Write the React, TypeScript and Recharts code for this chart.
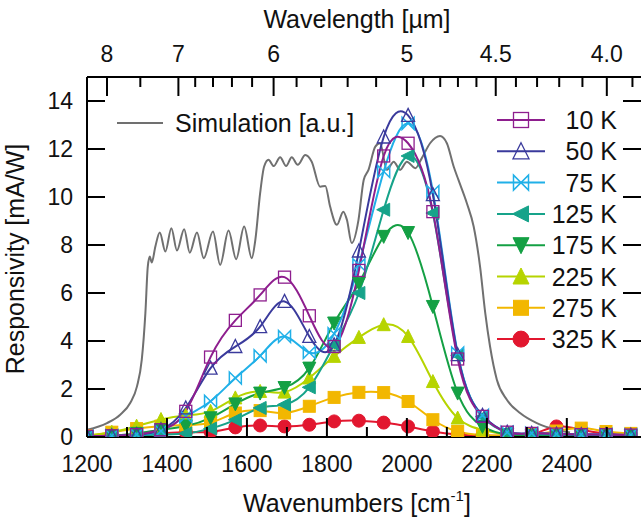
import React from 'react';
import { LineChart, Line, XAxis, YAxis } from 'recharts';

// ---------- data ----------
const WAVENUMBERS = [1200, 1262, 1324, 1385, 1447, 1509, 1571, 1633, 1694, 1756, 1818, 1880, 1942, 2003, 2065, 2127, 2189, 2251, 2312, 2374, 2436, 2498, 2560];

const R_10K = [0.03, 0.05, 0.1, 0.3, 1.07, 3.33, 4.86, 5.92, 6.66, 5.05, 3.77, 6.94, 11.71, 12.24, 9.39, 3.25, 0.86, 0.2, 0.15, 0.12, 0.1, 0.1, 0.08];
const R_50K = [0.03, 0.05, 0.1, 0.3, 1.21, 2.87, 3.77, 4.6, 5.65, 4.19, 3.84, 7.75, 12.5, 13.4, 10.1, 3.43, 0.9, 0.2, 0.15, 0.12, 0.1, 0.1, 0.08];
const R_75K = [0.03, 0.05, 0.1, 0.25, 0.86, 1.49, 2.46, 3.38, 4.19, 3.52, 4.3, 7.18, 11.06, 13.07, 10.23, 3.5, 0.9, 0.2, 0.15, 0.12, 0.1, 0.1, 0.08];
const R_125K = [0.0, 0.02, 0.05, 0.1, 0.15, 0.35, 0.72, 1.21, 1.35, 2.07, 3.84, 6.0, 9.47, 11.71, 9.33, 3.4, 0.85, 0.2, 0.12, 0.1, 0.1, 0.08, 0.05];
const R_175K = [0.0, 0.05, 0.15, 0.3, 0.46, 0.8, 1.38, 1.83, 2.06, 2.87, 4.75, 6.41, 8.36, 8.52, 5.44, 1.83, 0.44, 0.1, 0.05, 0.05, 0.05, 0.05, 0.05];
const R_225K = [0.05, 0.2, 0.45, 0.73, 0.9, 1.07, 1.63, 1.9, 1.87, 2.46, 3.36, 4.15, 4.68, 4.19, 2.31, 0.79, 0.3, 0.1, 0.08, 0.08, 0.08, 0.05, 0.05];
const R_275K = [0.05, 0.2, 0.35, 0.45, 0.5, 0.6, 1.0, 1.1, 1.0, 1.28, 1.65, 1.86, 1.85, 1.48, 0.72, 0.23, 0.08, 0.05, 0.1, 0.25, 0.37, 0.23, 0.15];
const R_325K = [0.05, 0.08, 0.1, 0.15, 0.2, 0.21, 0.4, 0.48, 0.44, 0.51, 0.65, 0.68, 0.6, 0.44, 0.23, 0.1, 0.05, 0.05, 0.1, 0.44, 0.3, 0.15, 0.1];

const SIM_X = [1200, 1250, 1283, 1308, 1325, 1337, 1346, 1352, 1357, 1362, 1371, 1382, 1396, 1411, 1425, 1443, 1457, 1475, 1492, 1515, 1533, 1554, 1573, 1593, 1612, 1621, 1633, 1643, 1654, 1667, 1683, 1698, 1712, 1727, 1746, 1762, 1783, 1796, 1808, 1825, 1841, 1850, 1862, 1879, 1892, 1904, 1921, 1933, 1950, 1967, 1983, 2000, 2021, 2037, 2058, 2083, 2100, 2117, 2129, 2150, 2167, 2183, 2196, 2208, 2225, 2250, 2283, 2325, 2375, 2408];
const SIM_Y = [0.30, 0.58, 0.93, 1.42, 2.11, 3.22, 5.16, 7.10, 7.52, 7.27, 7.94, 8.52, 7.73, 8.70, 7.77, 8.66, 7.68, 8.52, 7.45, 8.56, 7.17, 8.60, 7.41, 8.77, 7.45, 8.21, 10.16, 11.27, 11.55, 11.29, 11.66, 11.29, 11.66, 11.34, 11.75, 11.47, 10.43, 10.46, 9.60, 8.84, 9.39, 9.05, 8.08, 9.05, 10.71, 11.13, 12.10, 12.24, 11.13, 11.47, 11.13, 11.47, 11.20, 11.61, 12.24, 12.54, 12.24, 11.27, 10.71, 9.74, 8.77, 7.10, 5.16, 3.77, 2.39, 1.55, 1.00, 0.58, 0.30, 0.19];

const BOTTOM_MAJOR = [1200, 1400, 1600, 1800, 2000, 2200, 2400];
const BOTTOM_MINOR = [1300, 1500, 1700, 1900, 2100, 2300, 2500];
const TOP_MAJOR_UM = [8, 7, 6, 5, 4.5, 4.0];
const TOP_MAJOR_LABELS = ['8', '7', '6', '5', '4.5', '4.0'];
const TOP_MINOR_UM = [7.5, 6.8, 6.6, 6.4, 6.2, 5.8, 5.6, 5.4, 5.2, 4.9, 4.8, 4.7, 4.6, 4.4, 4.3, 4.2, 4.1, 3.9];
const Y_TICKS = [0, 2, 4, 6, 8, 10, 12, 14];

const SERIES = [
  { key: 'k325', name: '325 K', color: '#E2172F', shape: 'circle', values: R_325K },
  { key: 'k275', name: '275 K', color: '#F2B700', shape: 'square', values: R_275K },
  { key: 'k225', name: '225 K', color: '#B6D400', shape: 'up', values: R_225K },
  { key: 'k175', name: '175 K', color: '#14A044', shape: 'down', values: R_175K },
  { key: 'k125', name: '125 K', color: '#16A38A', shape: 'left', values: R_125K },
  { key: 'k75', name: '75 K', color: '#20B0E8', shape: 'bowtie', values: R_75K },
  { key: 'k50', name: '50 K', color: '#3A3A9C', shape: 'openTri', values: R_50K },
  { key: 'k10', name: '10 K', color: '#8E1E8E', shape: 'openSquare', values: R_10K },
];
const LEGEND_ORDER = ['k10', 'k50', 'k75', 'k125', 'k175', 'k225', 'k275', 'k325'];

const TABLE = WAVENUMBERS.map((w, i) => {
  const row: any = { w };
  SERIES.forEach((s) => { row[s.key] = s.values[i]; });
  return row;
});
const SIM_TABLE = SIM_X.map((w, i) => ({ w, sim: SIM_Y[i] }));

const TOP_TICKS = [...TOP_MAJOR_UM, ...TOP_MINOR_UM].map((um) => 10000 / um);

const FONT = '"Liberation Sans", Arial, Helvetica, sans-serif';
const X_DOMAIN: [number, number] = [1200, 2588];

// ---------- markers ----------
function Marker({ cx, cy, shape, color, size }: any) {
  const h = size / 2;
  if (cx == null || cy == null) return null;
  switch (shape) {
    case 'circle':
      return <circle cx={cx} cy={cy} r={h + 0.5} fill={color} stroke={color} strokeWidth={1} />;
    case 'square':
      return <rect x={cx - h} y={cy - h} width={size} height={size} fill={color} stroke={color} strokeWidth={1} />;
    case 'up':
      return <polygon points={`${cx},${cy - h - 1} ${cx + h + 0.5},${cy + h} ${cx - h - 0.5},${cy + h}`} fill={color} stroke={color} strokeWidth={1} />;
    case 'down':
      return <polygon points={`${cx - h - 0.5},${cy - h} ${cx + h + 0.5},${cy - h} ${cx},${cy + h + 1}`} fill={color} stroke={color} strokeWidth={1} />;
    case 'left':
      return <polygon points={`${cx - h - 1},${cy} ${cx + h},${cy - h - 0.5} ${cx + h},${cy + h + 0.5}`} fill={color} stroke={color} strokeWidth={1} />;
    case 'bowtie':
      return <polygon points={`${cx - h},${cy - h} ${cx + h},${cy + h} ${cx + h},${cy - h} ${cx - h},${cy + h}`} fill="none" stroke={color} strokeWidth={1.5} />;
    case 'openTri':
      return <polygon points={`${cx},${cy - h - 1} ${cx + h + 0.5},${cy + h} ${cx - h - 0.5},${cy + h}`} fill="none" stroke={color} strokeWidth={1.3} />;
    case 'openSquare':
    default:
      return <rect x={cx - h} y={cy - h} width={size} height={size} fill="none" stroke={color} strokeWidth={1.3} />;
  }
}

// ---------- ticks ----------
const BottomTick = (p: any) => {
  const { x, y, payload } = p;
  const major = BOTTOM_MAJOR.includes(payload.value);
  return (
    <g>
      <line x1={x} x2={x} y1={y} y2={y - (major ? 19 : 10)} stroke="#000" strokeWidth={2} />
      {major && (
        <text x={x} y={y + 35} textAnchor="middle" fontSize={23} fontFamily={FONT} fill="#111">
          {payload.value}
        </text>
      )}
    </g>
  );
};

const TopTick = (p: any) => {
  const { x, y, payload } = p;
  const idx = TOP_MAJOR_UM.findIndex((um) => Math.abs(10000 / um - payload.value) < 0.01);
  const major = idx >= 0;
  return (
    <g>
      <line x1={x} x2={x} y1={y} y2={y + (major ? 19 : 10)} stroke="#000" strokeWidth={2} />
      {major && (
        <text x={x} y={y - 15} textAnchor="middle" fontSize={23} fontFamily={FONT} fill="#111">
          {TOP_MAJOR_LABELS[idx]}
        </text>
      )}
    </g>
  );
};

const LeftTick = (p: any) => {
  const { x, y, payload } = p;
  return (
    <g>
      <line x1={x} x2={x + 18} y1={y} y2={y} stroke="#000" strokeWidth={2} />
      <text x={x - 14} y={y + 8} textAnchor="end" fontSize={23} fontFamily={FONT} fill="#111">
        {payload.value}
      </text>
    </g>
  );
};

const RightTick = (p: any) => {
  const { x, y } = p;
  return <line x1={x} x2={x - 19} y1={y} y2={y} stroke="#000" strokeWidth={2} />;
};

// ---------- app ----------
export default function App() {
  const legendRows = LEGEND_ORDER.map((k) => SERIES.find((s) => s.key === k)!);
  return (
    <div style={{ position: 'fixed', left: 0, top: 0, width: 641, height: 521, overflow: 'hidden', background: '#fff' }}>
      <LineChart width={660} height={521} data={TABLE} margin={{ top: 0, right: 0, bottom: 0, left: 0 }}>
        <XAxis
          xAxisId="bottom"
          dataKey="w"
          type="number"
          domain={X_DOMAIN}
          allowDataOverflow
          ticks={[...BOTTOM_MAJOR, ...BOTTOM_MINOR].sort((a, b) => a - b)}
          interval={0}
          tickSize={0}
          tickMargin={0}
          tickLine={false}
          tick={BottomTick}
          axisLine={{ stroke: '#000', strokeWidth: 2 }}
          height={84}
        />
        <XAxis
          xAxisId="top"
          orientation="top"
          dataKey="w"
          type="number"
          domain={X_DOMAIN}
          allowDataOverflow
          ticks={TOP_TICKS}
          interval={0}
          tickSize={0}
          tickMargin={0}
          tickLine={false}
          tick={TopTick}
          axisLine={{ stroke: '#000', strokeWidth: 2 }}
          height={77}
        />
        <YAxis
          yAxisId="left"
          type="number"
          domain={[0, 15]}
          allowDataOverflow
          ticks={Y_TICKS}
          interval={0}
          tickSize={0}
          tickMargin={0}
          tickLine={false}
          tick={LeftTick}
          axisLine={{ stroke: '#000', strokeWidth: 2 }}
          width={87}
        />
        <YAxis
          yAxisId="right"
          orientation="right"
          type="number"
          domain={[0, 15]}
          allowDataOverflow
          ticks={Y_TICKS}
          interval={0}
          tickSize={0}
          tickMargin={0}
          tickLine={false}
          tick={RightTick}
          axisLine={{ stroke: '#000', strokeWidth: 2 }}
          width={18}
        />
        <Line
          xAxisId="bottom"
          yAxisId="left"
          data={SIM_TABLE}
          dataKey="sim"
          type="monotone"
          stroke="#707070"
          strokeWidth={2}
          dot={false}
          activeDot={false}
          isAnimationActive={false}
        />
        {SERIES.map((s) => (
          <Line
            key={s.key}
            xAxisId="bottom"
            yAxisId="left"
            dataKey={s.key}
            type="natural"
            stroke={s.color}
            strokeWidth={2}
            activeDot={false}
            isAnimationActive={false}
            dot={(p: any) => (
              <Marker key={`${s.key}-${p.index}`} cx={p.cx} cy={p.cy} shape={s.shape} color={s.color} size={12} />
            )}
          />
        ))}
      </LineChart>
      <svg
        width={641}
        height={521}
        style={{ position: 'absolute', left: 0, top: 0, pointerEvents: 'none' }}
        fontFamily={FONT}
      >
        <text x={357} y={28} textAnchor="middle" fontSize={25} fill="#111">Wavelength [µm]</text>
        <text x={357} y={512} textAnchor="middle" fontSize={25} fill="#111">
          Wavenumbers [cm<tspan dy={-11} fontSize={15}>-1</tspan><tspan dy={11}>]</tspan>
        </text>
        <text transform="translate(24,259) rotate(-90)" textAnchor="middle" fontSize={25} fill="#111">
          Responsivity [mA/W]
        </text>
        {/* simulation legend */}
        <line x1={117} x2={163} y1={123} y2={123} stroke="#707070" strokeWidth={2} />
        <text x={175} y={132} fontSize={25} fill="#111">Simulation [a.u.]</text>
        {legendRows.map((s, i) => {
          const cy = 120 + i * 31.3;
          return (
            <g key={s.key}>
              <line x1={497} x2={545} y1={cy} y2={cy} stroke={s.color} strokeWidth={2} />
              <Marker cx={521} cy={cy} shape={s.shape} color={s.color} size={15} />
              <text x={617} y={cy + 9} textAnchor="end" fontSize={25} fill="#111">{s.name}</text>
            </g>
          );
        })}
      </svg>
    </div>
  );
}
